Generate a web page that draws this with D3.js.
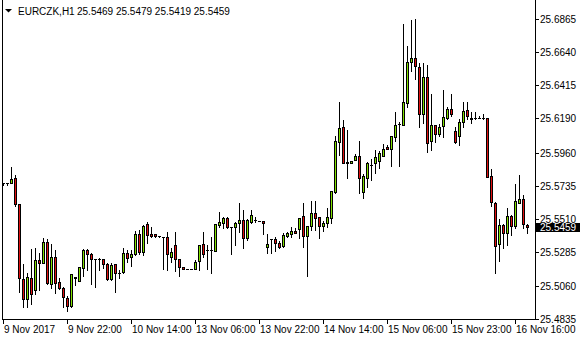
<!DOCTYPE html>
<html>
<head>
<meta http-equiv="Content-Type" content="text/html;charset=utf-8"/>
<script src="https://d3js.org/d3.v7.min.js"></script>
<style type="text/css">
body {
  margin: 0;
  background: #fff;
}
svg {
  display: block;
  font-family: "Liberation Sans", Arial, sans-serif;
  font-size: 10px;
}
.frame, .tick, .wick, .doji {
  stroke: #000;
  stroke-width: 1px;
  shape-rendering: crispEdges;
  fill: none;
}
.body {
  stroke: #000;
  stroke-width: 1px;
  shape-rendering: crispEdges;
}
.bull { fill: #80e000; }
.bear { fill: #e01010; }
</style>
</head>
<body>
<script>

var width = 580, height = 340;

// EURCZK H1, one entry per bar, starting 9 Nov 2017 06:00
var opens = [
  25.5755, 25.5755, 25.5757, 25.5786, 25.5611, 25.5105, 25.4970, 25.5111, 25.5032, 25.5235,
  25.5217, 25.5358, 25.5071, 25.5253, 25.5088, 25.5044, 25.4976, 25.4926, 25.5111, 25.5095,
  25.5183, 25.5302, 25.5273, 25.5244, 25.5242, 25.5240, 25.5208, 25.5107, 25.5206, 25.5145,
  25.5152, 25.5282, 25.5257, 25.5273, 25.5410, 25.5287, 25.5478, 25.5410, 25.5408, 25.5399,
  25.5392, 25.5388, 25.5253, 25.5334, 25.5242, 25.5188, 25.5172, 25.5172, 25.5172, 25.5230,
  25.5341, 25.5300, 25.5300, 25.5296, 25.5471, 25.5487, 25.5516, 25.5460, 25.5460, 25.5483,
  25.5505, 25.5381, 25.5489, 25.5505, 25.5500, 25.5500, 25.5325, 25.5375, 25.5377, 25.5352,
  25.5329, 25.5399, 25.5408, 25.5433, 25.5442, 25.5532, 25.5395, 25.5464, 25.5550, 25.5523,
  25.5462, 25.5487, 25.5520, 25.5696, 25.6033, 25.6131, 25.5898, 25.5888, 25.5910, 25.5937,
  25.5696, 25.5786, 25.5873, 25.5888, 25.5905, 25.5937, 25.6000, 25.5982, 25.6063, 25.6151,
  25.6144, 25.6293, 25.6569, 25.6596, 25.6536, 25.6218, 25.6468, 25.6038, 25.6143, 25.6083,
  25.6141, 25.6195, 25.6252, 25.6106, 25.6072, 25.6164, 25.6247, 25.6193, 25.6191, 25.6191,
  25.6191, 25.6191, 25.5804, 25.5618, 25.5341, 25.5471, 25.5419, 25.5532, 25.5464, 25.5618,
  25.5647, 25.5469
];
var highs = [
  25.5755, 25.5755, 25.5865, 25.5809, 25.5613, 25.5208, 25.5147, 25.5307, 25.5314, 25.5282,
  25.5381, 25.5375, 25.5341, 25.5302, 25.5111, 25.5055, 25.4994, 25.5140, 25.5120, 25.5188,
  25.5307, 25.5307, 25.5280, 25.5244, 25.5250, 25.5242, 25.5213, 25.5213, 25.5208, 25.5167,
  25.5314, 25.5302, 25.5302, 25.5433, 25.5437, 25.5471, 25.5489, 25.5456, 25.5410, 25.5399,
  25.5392, 25.5426, 25.5314, 25.5426, 25.5242, 25.5188, 25.5172, 25.5172, 25.5235, 25.5336,
  25.5422, 25.5336, 25.5388, 25.5478, 25.5557, 25.5523, 25.5523, 25.5460, 25.5489, 25.5618,
  25.5572, 25.5510, 25.5572, 25.5523, 25.5500, 25.5500, 25.5410, 25.5375, 25.5388, 25.5363,
  25.5419, 25.5426, 25.5456, 25.5449, 25.5518, 25.5622, 25.5466, 25.5633, 25.5633, 25.5525,
  25.5500, 25.5584, 25.5699, 25.6072, 25.6301, 25.6180, 25.6112, 25.5905, 25.5950, 25.6038,
  25.5815, 25.5894, 25.5917, 25.5977, 25.5973, 25.6018, 25.6011, 25.6072, 25.6234, 25.6168,
  25.6828, 25.6679, 25.6855, 25.6862, 25.6563, 25.6563, 25.6551, 25.6355, 25.6146, 25.6153,
  25.6382, 25.6266, 25.6355, 25.6131, 25.6187, 25.6299, 25.6299, 25.6232, 25.6232, 25.6207,
  25.6218, 25.6193, 25.5847, 25.5628, 25.5510, 25.5478, 25.5584, 25.5539, 25.5748, 25.5809,
  25.5674, 25.5479
];
var lows = [
  25.5741, 25.5741, 25.5755, 25.5599, 25.5017, 25.4916, 25.4916, 25.4938, 25.5003, 25.5032,
  25.5215, 25.5073, 25.5044, 25.5010, 25.5039, 25.4920, 25.4893, 25.4920, 25.5066, 25.5093,
  25.5127, 25.5167, 25.5073, 25.5055, 25.5167, 25.5179, 25.5100, 25.5100, 25.5021, 25.5111,
  25.5147, 25.5223, 25.5194, 25.5269, 25.5275, 25.5269, 25.5352, 25.5388, 25.5388, 25.5388,
  25.5172, 25.5167, 25.5223, 25.5163, 25.5129, 25.5171, 25.5172, 25.5172, 25.5171, 25.5167,
  25.5253, 25.5172, 25.5145, 25.5292, 25.5460, 25.5449, 25.5451, 25.5275, 25.5336, 25.5426,
  25.5318, 25.5370, 25.5483, 25.5489, 25.5500, 25.5410, 25.5280, 25.5280, 25.5298, 25.5314,
  25.5325, 25.5388, 25.5388, 25.5415, 25.5381, 25.5319, 25.5129, 25.5437, 25.5437, 25.5381,
  25.5433, 25.5460, 25.5483, 25.5685, 25.5944, 25.5888, 25.5790, 25.5888, 25.5910, 25.5685,
  25.5651, 25.5730, 25.5775, 25.5820, 25.5854, 25.5937, 25.5982, 25.5869, 25.6040, 25.5869,
  25.6144, 25.6270, 25.6513, 25.6455, 25.6129, 25.6158, 25.5966, 25.5977, 25.6029, 25.6072,
  25.6065, 25.6187, 25.6207, 25.6027, 25.6011, 25.6133, 25.6185, 25.6162, 25.6187, 25.6190,
  25.6187, 25.5793, 25.5599, 25.5145, 25.5230, 25.5314, 25.5336, 25.5404, 25.5453, 25.5618,
  25.5453, 25.5419
];
var closes = [
  25.5755, 25.5755, 25.5780, 25.5611, 25.5111, 25.4970, 25.5122, 25.5003, 25.5235, 25.5217,
  25.5358, 25.5078, 25.5253, 25.5082, 25.5044, 25.4983, 25.4926, 25.5138, 25.5118, 25.5186,
  25.5302, 25.5273, 25.5244, 25.5244, 25.5242, 25.5210, 25.5105, 25.5199, 25.5145, 25.5145,
  25.5280, 25.5250, 25.5275, 25.5410, 25.5291, 25.5464, 25.5404, 25.5399, 25.5399, 25.5399,
  25.5392, 25.5275, 25.5291, 25.5242, 25.5188, 25.5172, 25.5172, 25.5172, 25.5223, 25.5334,
  25.5275, 25.5300, 25.5300, 25.5476, 25.5489, 25.5516, 25.5456, 25.5460, 25.5483, 25.5505,
  25.5381, 25.5503, 25.5539, 25.5505, 25.5500, 25.5483, 25.5341, 25.5375, 25.5348, 25.5325,
  25.5404, 25.5415, 25.5433, 25.5419, 25.5516, 25.5399, 25.5464, 25.5550, 25.5520, 25.5462,
  25.5485, 25.5523, 25.5697, 25.6038, 25.6124, 25.5892, 25.5892, 25.5905, 25.5937, 25.5786,
  25.5804, 25.5888, 25.5873, 25.5928, 25.5955, 25.5982, 25.5982, 25.6072, 25.6144, 25.6151,
  25.6301, 25.6569, 25.6596, 25.6546, 25.6218, 25.6468, 25.6023, 25.6143, 25.6083, 25.6131,
  25.6198, 25.6252, 25.6218, 25.6033, 25.6164, 25.6243, 25.6207, 25.6185, 25.6191, 25.6191,
  25.6191, 25.5797, 25.5628, 25.5331, 25.5471, 25.5419, 25.5532, 25.5466, 25.5633, 25.5647,
  25.5478, 25.5459
];

var priceTicks = [25.6865, 25.6640, 25.6415, 25.6190, 25.5960, 25.5735, 25.5510, 25.5285, 25.5060, 25.4835];
var timeTickBars = [0, 16, 32, 48, 64, 80, 96, 112, 128];
var timeTickLabels = ["9 Nov 2017", "9 Nov 22:00", "10 Nov 14:00", "13 Nov 06:00", "13 Nov 22:00",
                      "14 Nov 14:00", "15 Nov 06:00", "15 Nov 23:00", "16 Nov 16:00"];
var symbol = "EURCZK,H1";

var left = 2, right = 535, bottom = 319;

var x = d3.scaleLinear()
    .domain([0, opens.length - 1])
    .range([3, 3 + 4 * (opens.length - 1)]);

var y = d3.scaleLinear()
    .domain([25.4835, 25.6865])
    .range([319.1, 18.5]);

var svg = d3.select("body").append("svg")
    .attr("width", width)
    .attr("height", height);

var bars = d3.range(opens.length).map(function(i) {
  return {i: i, o: opens[i], h: highs[i], l: lows[i], c: closes[i]};
});

var g = svg.append("g");

// wicks
g.selectAll(".wick")
    .data(bars)
  .enter().append("line")
    .attr("class", "wick")
    .attr("x1", function(d) { return Math.round(x(d.i)) + 0.5; })
    .attr("x2", function(d) { return Math.round(x(d.i)) + 0.5; })
    .attr("y1", function(d) { return Math.round(y(d.h)); })
    .attr("y2", function(d) { return Math.round(y(d.l)) + 1; });

function topOf(d) { return Math.round(y(Math.max(d.o, d.c))); }
function botOf(d) { return Math.round(y(Math.min(d.o, d.c))); }

// flat bars
g.selectAll(".doji")
    .data(bars.filter(function(d) { return botOf(d) - topOf(d) < 1; }))
  .enter().append("line")
    .attr("class", "doji")
    .attr("x1", function(d) { return Math.round(x(d.i)) - 1; })
    .attr("x2", function(d) { return Math.round(x(d.i)) + 2; })
    .attr("y1", function(d) { return topOf(d) + 0.5; })
    .attr("y2", function(d) { return topOf(d) + 0.5; });

// bodies
g.selectAll(".body")
    .data(bars.filter(function(d) { return botOf(d) - topOf(d) >= 1; }))
  .enter().append("rect")
    .attr("class", function(d) { return "body " + (d.c >= d.o ? "bull" : "bear"); })
    .attr("x", function(d) { return Math.round(x(d.i)) - 0.5; })
    .attr("width", 2)
    .attr("y", function(d) { return topOf(d) + 0.5; })
    .attr("height", function(d) { return botOf(d) - topOf(d); });

// frame
svg.append("path")
    .attr("class", "frame")
    .attr("d", "M" + (left + 0.5) + ",0V" + (bottom + 0.5) + "H" + (right + 0.5) + "V0");

// price axis
var py = svg.append("g");
py.selectAll(".tick")
    .data(priceTicks)
  .enter().append("line")
    .attr("class", "tick")
    .attr("x1", right + 1)
    .attr("x2", right + 4)
    .attr("y1", function(d) { return Math.round(y(d)) + 0.5; })
    .attr("y2", function(d) { return Math.round(y(d)) + 0.5; });
py.selectAll("text")
    .data(priceTicks)
  .enter().append("text")
    .attr("x", 540)
    .attr("y", function(d) { return Math.round(y(d)) + 4; })
    .text(function(d) { return d.toFixed(4); });

// current price label
var last = closes[closes.length - 1];
svg.append("rect")
    .attr("x", right + 1)
    .attr("y", Math.round(y(last)) - 4)
    .attr("width", width - right - 1)
    .attr("height", 9)
    .attr("fill", "#000");
svg.append("text")
    .attr("x", 540)
    .attr("y", Math.round(y(last)) + 4)
    .attr("fill", "#fff")
    .text(last.toFixed(4));

// time axis
var tx = svg.append("g");
tx.selectAll(".tick")
    .data(timeTickBars)
  .enter().append("line")
    .attr("class", "tick")
    .attr("x1", function(d) { return Math.round(x(d)) + 0.5; })
    .attr("x2", function(d) { return Math.round(x(d)) + 0.5; })
    .attr("y1", bottom + 1)
    .attr("y2", bottom + 5);
tx.selectAll("text")
    .data(timeTickBars)
  .enter().append("text")
    .attr("x", function(d) { return Math.round(x(d)) + 1; })
    .attr("y", 333)
    .text(function(d, i) { return timeTickLabels[i]; });

// header
var n = opens.length - 1;
svg.append("path")
    .attr("d", "M5,9H12L8.5,12.5Z")
    .attr("fill", "#000");
svg.append("text")
    .attr("x", 18)
    .attr("y", 15)
    .text(symbol);
svg.append("text")
    .attr("x", 77)
    .attr("y", 15)
    .text([opens[n], highs[n], lows[n], closes[n]].map(function(v) { return v.toFixed(4); }).join(" "));

</script>
</body>
</html>
